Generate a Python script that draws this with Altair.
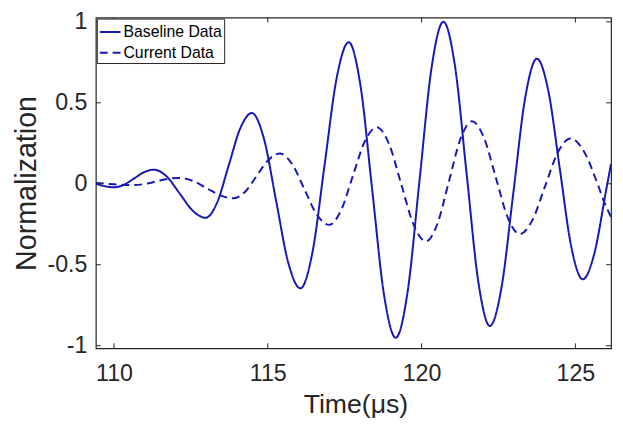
import altair as alt
import pandas as pd

# ---- data ----
base_x = [109.41, 109.7, 110.0, 110.325, 110.65, 110.975, 111.3, 111.72, 112.14, 112.56,
          112.98, 113.355, 113.73, 114.105, 114.48, 114.875, 115.27, 115.665, 116.06, 116.4525,
          116.845, 117.2375, 117.63, 118.0125, 118.395, 118.7775, 119.16, 119.5475, 119.935, 120.3225,
          120.71, 121.0875, 121.465, 121.8425, 122.22, 122.6025, 122.985, 123.3675, 123.75, 124.1225,
          124.495, 124.8675, 125.24, 125.6175, 125.995, 126.16]
base_y = [0.0, -0.015, -0.022, -0.006, 0.0325, 0.071, 0.087, 0.0435, -0.0615, -0.1665,
          -0.21, -0.115, 0.1135, 0.342, 0.437, 0.278, -0.1045, -0.487, -0.646, -0.423,
          0.114, 0.651, 0.874, 0.607, -0.0385, -0.684, -0.951, -0.665, 0.0245, 0.714,
          1.0, 0.725, 0.061, -0.603, -0.878, -0.636, -0.053, 0.530, 0.772, 0.572,
          0.091, -0.390, -0.59, -0.43, -0.045, 0.122]

cur_x = [109.41, 110.0, 110.6, 110.98, 111.365, 111.75, 112.13, 112.57, 113.01, 113.45,
         113.89, 114.265, 114.64, 115.015, 115.39, 115.79, 116.19, 116.59, 116.99, 117.3775,
         117.765, 118.1525, 118.54, 118.94, 119.34, 119.74, 120.14, 120.515, 120.89, 121.265,
         121.64, 122.0275, 122.415, 122.8025, 123.19, 123.6025, 124.015, 124.4275, 124.84, 125.23,
         125.43, 125.6, 125.76, 125.91, 126.16]
cur_y = [0.005, -0.003, -0.008, -0.002, 0.014, 0.030, 0.036, 0.0175, -0.027, -0.0715,
         -0.09, -0.049, 0.0485, 0.146, 0.187, 0.122, -0.0335, -0.189, -0.254, -0.166,
         0.0475, 0.261, 0.349, 0.246, -0.0035, -0.253, -0.356, -0.247, 0.015, 0.277,
         0.386, 0.284, 0.0375, -0.209, -0.311, -0.2245, -0.0155, 0.193, 0.28, 0.215,
         0.142, 0.06, -0.02, -0.10, -0.205]

series_names = ["Baseline Data", "Current Data"]
x_ticks = [110, 115, 120, 125]
y_ticks = [-1, -0.5, 0, 0.5, 1]

# ---- build tables ----
df = pd.concat([
    pd.DataFrame({"t": base_x, "v": base_y, "s": series_names[0], "o": list(range(len(base_x)))}),
    pd.DataFrame({"t": cur_x, "v": cur_y, "s": series_names[1], "o": list(range(len(cur_x)))}),
], ignore_index=True)
xt = pd.DataFrame({"t": x_ticks})
yt = pd.DataFrame({"v": y_ticks})

W, H = 522, 335
FONT = "Liberation Sans"
AX = "#262626"
BLUE = "#1818B4"

xs = alt.Scale(domain=[109.41, 126.16], nice=False, zero=False)
ys = alt.Scale(domain=[-1.016, 1.026], nice=False, zero=False)

x_axis = alt.Axis(
    values=x_ticks, format="d", title="Time(μs)", ticks=False, tickSize=0, domain=False,
    grid=False, labelFontSize=23.5, labelPadding=14, labelColor=AX, labelFont=FONT,
    titleFontSize=27, titleFont=FONT, titleColor=AX, titleFontWeight="normal",
    titleBaseline="alphabetic", titleX=263, titleY=65, titleAlign="center")
y_axis = alt.Axis(
    values=y_ticks, labelExpr="'' + datum.value", title="Normalization", ticks=False,
    tickSize=0, domain=False, grid=False, labelFontSize=23.5, labelPadding=9,
    labelColor=AX, labelFont=FONT, titleFontSize=29, titleFont=FONT, titleColor=AX,
    titleFontWeight="normal", titleAngle=270, titleBaseline="alphabetic",
    titleX=-61, titleY=H / 2, titleAlign="center")

legend = alt.Legend(
    title=None, orient="none", legendX=1, legendY=1,
    fillColor="white", strokeColor=AX, padding=2,
    symbolType="stroke", symbolSize=441, symbolStrokeWidth=2,
    labelFontSize=16, labelFont=FONT, labelColor="black", labelOffset=2,
    rowPadding=1,
)

lines = alt.Chart(df).mark_line(interpolate="monotone", strokeWidth=2, clip=True).encode(
    x=alt.X("t:Q", scale=xs, axis=x_axis),
    y=alt.Y("v:Q", scale=ys, axis=y_axis),
    color=alt.Color("s:N", scale=alt.Scale(domain=series_names, range=[BLUE, BLUE]), legend=legend),
    strokeDash=alt.StrokeDash("s:N", scale=alt.Scale(domain=series_names, range=[[1, 0], [8, 5]]),
                              legend=legend),
    order="o:Q",
)

tick_len = 5
bx = alt.Chart(xt).mark_rule(color=AX, strokeWidth=1).encode(
    x=alt.X("t:Q", scale=xs, axis=x_axis), y=alt.value(H), y2=alt.value(H - tick_len))
tx = alt.Chart(xt).mark_rule(color=AX, strokeWidth=1).encode(
    x=alt.X("t:Q", scale=xs, axis=x_axis), y=alt.value(0), y2=alt.value(tick_len))
ly = alt.Chart(yt).mark_rule(color=AX, strokeWidth=1).encode(
    y=alt.Y("v:Q", scale=ys, axis=y_axis), x=alt.value(0), x2=alt.value(tick_len))
ry = alt.Chart(yt).mark_rule(color=AX, strokeWidth=1).encode(
    y=alt.Y("v:Q", scale=ys, axis=y_axis), x=alt.value(W), x2=alt.value(W - tick_len))

chart = alt.layer(lines, bx, tx, ly, ry).properties(
    width=W, height=H,
    autosize=alt.AutoSizeParams(type="none"),
    padding={"left": 89, "top": 7, "right": 4, "bottom": 76},
    background="white",
).configure_view(stroke=AX, strokeWidth=1.2)

chart.save("out.html", embed_options={"renderer": "svg", "actions": False})
